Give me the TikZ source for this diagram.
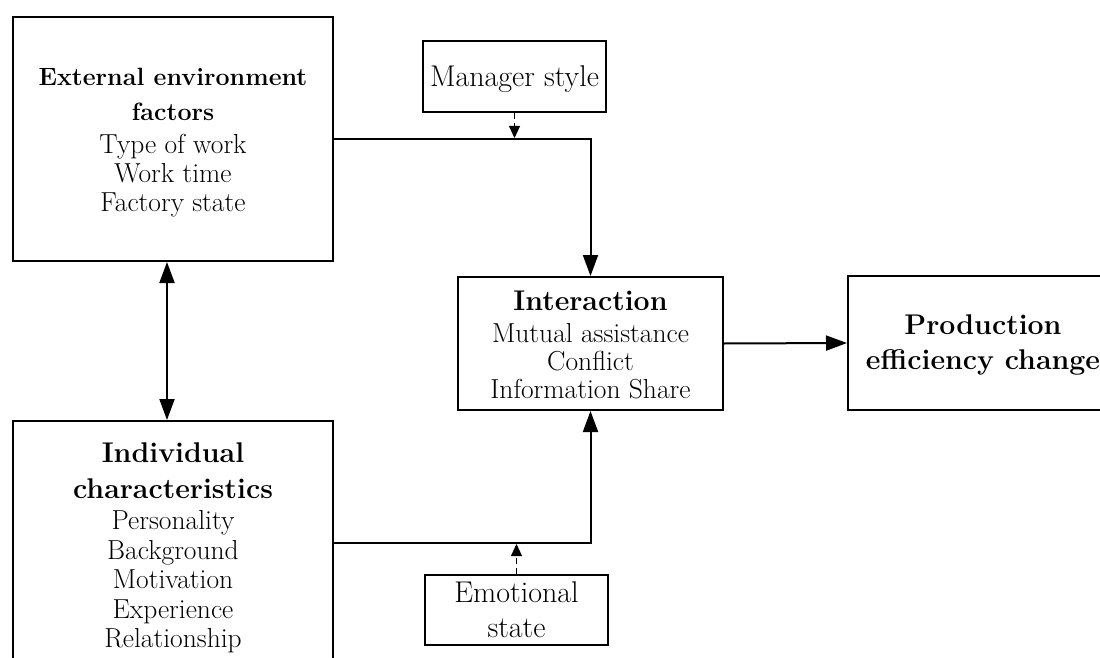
\documentclass[tikz,border=0pt]{standalone}
\usepackage{fontspec}
\usetikzlibrary{arrows.meta}
\begin{document}
\begin{tikzpicture}[x=1pt,y=-1pt,
  box/.style={draw, line width=2pt, align=center, inner sep=0pt, font=\fontsize{27.5}{29}\selectfont},
  arr/.style={line width=2pt, -{Triangle[length=21pt,width=15pt]}},
  darr/.style={line width=1pt, dash pattern=on 6pt off 4pt, -{Triangle[length=12pt,width=11pt]}}]
\useasboundingbox (0,0) rectangle (1100,658);
\clip (0,0) rectangle (1100,658);
\node[box, minimum width=320pt, minimum height=244pt] (ext) at (173,139)
  {{\bfseries\fontsize{25}{29}\selectfont\rule{0pt}{25.4pt}External environment}\\[6pt]{\bfseries\fontsize{25}{29}\selectfont factors}\\[4pt]Type of work\\Work time\\Factory state};
\node[box, minimum width=320pt, minimum height=244pt, font=\fontsize{27.5}{29.5}\selectfont] (ind) at (173,543)
  {{\bfseries\fontsize{28.5}{29}\selectfont\rule{0pt}{29.8pt}Individual}\\[6.5pt]{\bfseries\fontsize{28.5}{29}\selectfont characteristics}\\[1.5pt]Personality\\Background\\Motivation\\Experience\\Relationship};
\node[box, minimum width=265pt, minimum height=133pt, font=\fontsize{27.5}{28}\selectfont] (int) at (590.5,343.5)
  {{\bfseries\fontsize{28.5}{28}\selectfont\rule{0pt}{21.5pt}Interaction}\\[4pt]Mutual assistance\\Conflict\\Information Share};
\node[box, minimum width=270pt, minimum height=134pt, font=\bfseries\fontsize{28.5}{35}\selectfont] (prod) at (983,343)
  {\rule{0pt}{23.8pt}Production\\efficiency change};
\node[box, minimum width=183pt, minimum height=71pt, font=\fontsize{30}{35}\selectfont] (mgr) at (514.5,76.5) {\rule{0pt}{26.8pt}Manager style};
\node[box, minimum width=183pt, minimum height=70pt, font=\fontsize{30}{35}\selectfont] (emo) at (516.5,610) {Emotional\\state};
\draw[arr] (ext.east) -| (int.north);
\draw[arr] (ind.east) -| (int.south);
\draw[arr] (int.east) -- (prod.west);
\draw[line width=2pt, {Triangle[length=21pt,width=15pt]}-{Triangle[length=21pt,width=15pt]}] ([xshift=-6pt]ext.south) -- ([xshift=-6pt]ind.north);
\coordinate (mgrT) at ([yshift=1pt]mgr.south |- ext.east);
\draw[darr] (mgr.south) -- (mgrT);
\coordinate (emoT) at ([yshift=-1pt]emo.north |- ind.east);
\draw[darr] (emo.north) -- (emoT);
\end{tikzpicture}
\end{document}
